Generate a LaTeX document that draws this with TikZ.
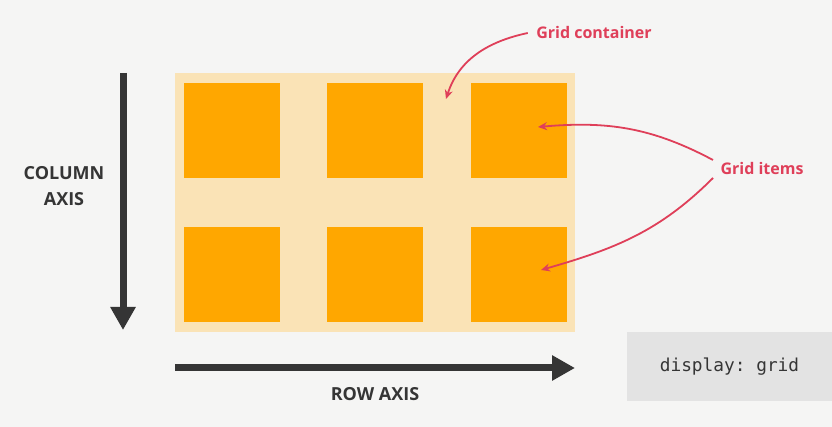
\documentclass[tikz,border=0pt]{standalone}
\usepackage{fontspec}
\setmainfont{Open Sans}
\setmonofont{DejaVu Sans Mono}
\usetikzlibrary{arrows.meta}
\definecolor{bgcol}{HTML}{F5F5F4}
\definecolor{boxcol}{HTML}{FAE3B6}
\definecolor{itemcol}{HTML}{FFA700}
\definecolor{notecol}{HTML}{DF3F59}
\definecolor{axiscol}{HTML}{353535}
\definecolor{codecol}{HTML}{E3E3E3}
\tikzset{
  item/.style={fill=itemcol, minimum width=96pt, minimum height=95pt, inner sep=0pt},
  axis/.style={draw=axiscol, line width=7pt, -{Triangle[length=23pt, width=24pt]}},
  pointer/.style={draw=notecol, line width=1.8pt, -{Stealth[length=9pt, width=8pt]}},
  note/.style={text=notecol, font=\fontsize{16}{20}\selectfont\bfseries},
  axislabel/.style={text=axiscol, font=\fontsize{18}{26}\selectfont\bfseries, align=center}
}
\begin{document}
\begin{tikzpicture}[x=1pt, y=1pt]
      \fill[bgcol] (0,0) rectangle (832,427);
      \useasboundingbox (0,0) rectangle (832,427);
      \node[fill=boxcol, minimum width=400pt, minimum height=259pt] (grid) at (375,224.5) {};
      \draw
        (232,296.5) node[item] (a1){}
        (375,296.5) node[item] (a2){}
        (518.5,296.5) node[item] (a3){}
        (232,152.5) node[item] (b1){}
        (375,152.5) node[item] (b2){}
        (518.5,152.5) node[item] (b3){};
      \node[axislabel] (collabel) at (64,241) {COLUMN\\AXIS};
      \node[axislabel] (rowlabel) at (375,33) {ROW AXIS};
      \node[note] (gridlabel) at (594,394) {Grid container};
      \node[note] (itemslabel) at (762,258) {Grid items};
      \node[fill=codecol, minimum width=205pt, minimum height=69pt, font=\fontsize{17.8}{20}\selectfont\ttfamily, text=axiscol] (code) at (729.5,60.5) {display: grid};
      \coordinate (coltop) at (123,354);
      \coordinate (colend) at (123,97);
      \coordinate (rowstart) at (175,59);
      \coordinate (rowend) at (575,59);
      \coordinate (gridtip) at (446,328);
      \coordinate (toptip) at (538,300);
      \coordinate (bottip) at (541,157);
      \begin{scope}
        \draw[axis] (coltop) to (colend);
        \draw[axis] (rowstart) to (rowend);
        \draw[pointer] ([xshift=-5pt]gridlabel.west) to[out=192, in=72] (gridtip);
        \draw[pointer] ([xshift=-4pt, yshift=9pt]itemslabel.west) to[out=152, in=5] (toptip);
        \draw[pointer] ([xshift=-4pt, yshift=-9pt]itemslabel.west) to[out=225, in=16] (bottip);
      \end{scope}
    \end{tikzpicture}
\end{document}
